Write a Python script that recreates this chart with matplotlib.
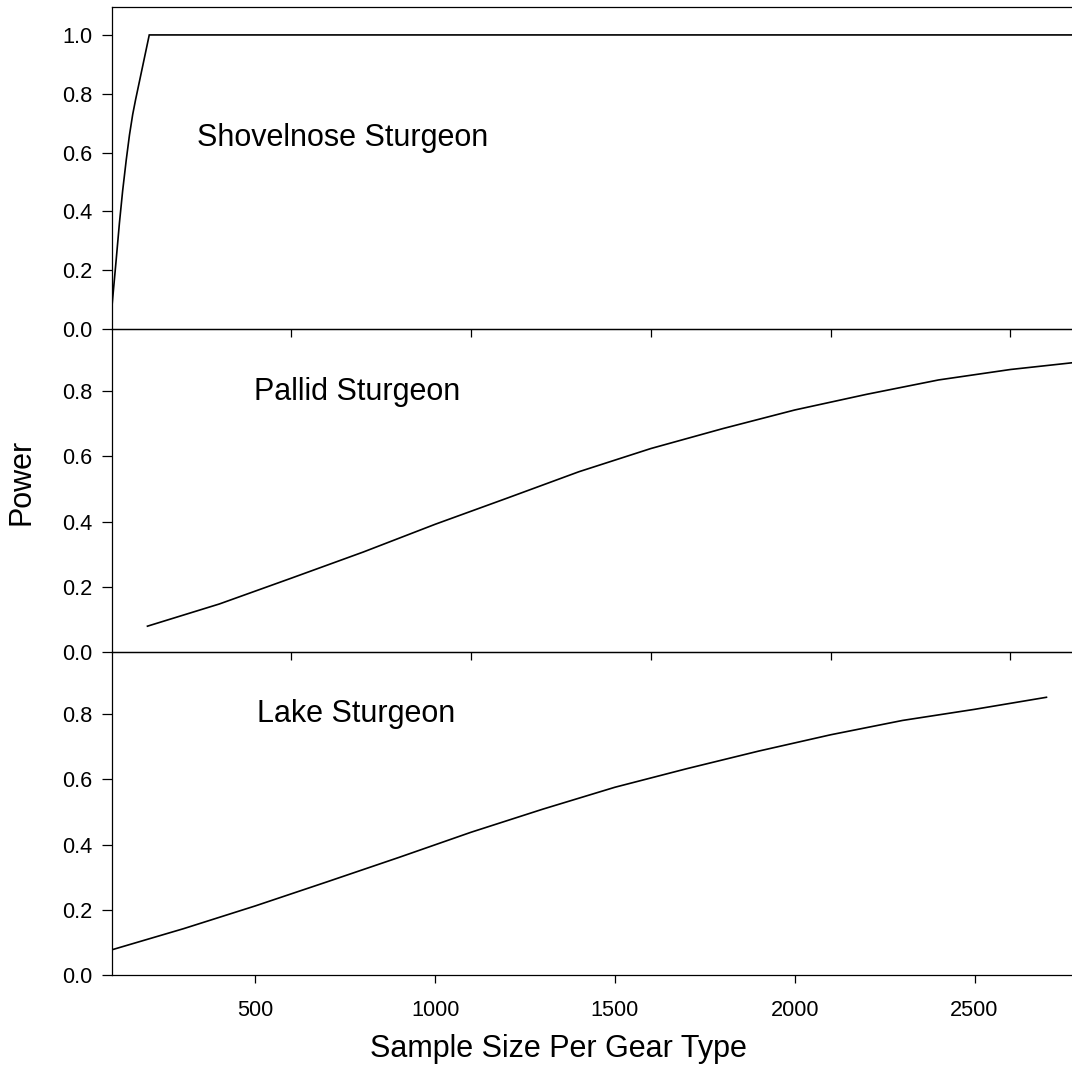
import matplotlib
matplotlib.use("Agg")
import matplotlib.pyplot as plt
from matplotlib.ticker import FixedLocator, FormatStrFormatter

plt.rcParams['font.family'] = ['Liberation Sans', 'DejaVu Sans']

# ---- data ----
shovel_x = [100, 113, 122, 131, 141, 150, 159, 167, 205, 300, 500, 700, 900, 1100, 1300,
            1500, 1700, 1900, 2100, 2300, 2500, 2700, 2900]
shovel_y = [0.06, 0.235, 0.36, 0.47, 0.575, 0.66, 0.73, 0.78, 1.0, 1.0, 1.0, 1.0, 1.0, 1.0,
            1.0, 1.0, 1.0, 1.0, 1.0, 1.0, 1.0, 1.0, 1.0]

pallid_x = [200, 400, 600, 800, 1000, 1200, 1400, 1600, 1800, 2000, 2200, 2400, 2600, 2800]
pallid_y = [0.080, 0.148, 0.227, 0.307, 0.392, 0.472, 0.553, 0.624, 0.685, 0.742, 0.790,
            0.834, 0.866, 0.890]

lake_x = [100, 300, 500, 700, 900, 1100, 1300, 1500, 1700, 1900, 2100, 2300, 2500, 2700]
lake_y = [0.077, 0.142, 0.212, 0.286, 0.361, 0.438, 0.509, 0.576, 0.633, 0.687, 0.737,
          0.781, 0.815, 0.852]

panel_labels = ["Shovelnose Sturgeon", "Pallid Sturgeon", "Lake Sturgeon"]
label_pos = [(339, 0.623), (495, 0.772), (505, 0.777)]

x_ticks_bottom = [500, 1000, 1500, 2000, 2500]
x_ticks_inner = [600, 1100, 1600, 2100, 2600]
y_ticks_top = [0.0, 0.2, 0.4, 0.6, 0.8, 1.0]
y_ticks_lower = [0.0, 0.2, 0.4, 0.6, 0.8]

xlabel = "Sample Size Per Gear Type"
ylabel = "Power"

# ---- figure ----
W, H = 1072, 1070
fig = plt.figure(figsize=(W / 100, H / 100), dpi=100)

left = 111.5 / W
width = 1.0 - left + 0.002
panels_px = [(6.7, 329.0), (329.0, 652.3), (652.3, 975.0)]
ylims = [(0, 1.096), (0, 0.99), (0, 0.99)]
series = [(shovel_x, shovel_y), (pallid_x, pallid_y), (lake_x, lake_y)]

tick_fs = 15.7
text_fs = 22

axes = []
for i, ((top_px, bot_px), yl, (xs, ys)) in enumerate(zip(panels_px, ylims, series)):
    ax = fig.add_axes([left, 1 - bot_px / H, width, (bot_px - top_px) / H])
    ax.set_facecolor('none')
    ax.set_zorder(10 - i)
    ax.plot(xs, ys, color='black', lw=1.2, solid_joinstyle='miter')
    ax.set_xlim(100, 2777)
    ax.set_ylim(*yl)
    ax.spines['right'].set_visible(False)
    for s in ax.spines.values():
        s.set_linewidth(0.9)
    ax.yaxis.set_major_locator(FixedLocator(y_ticks_top if i == 0 else y_ticks_lower))
    ax.yaxis.set_major_formatter(FormatStrFormatter('%.1f'))
    ax.tick_params(axis='y', direction='out', length=7, width=0.9, pad=7,
                   labelsize=tick_fs, left=True, right=False)
    if i < 2:
        ax.xaxis.set_major_locator(FixedLocator(x_ticks_inner))
        ax.tick_params(axis='x', direction='out', length=6, width=0.9,
                       labelbottom=False, top=False)
    else:
        ax.xaxis.set_major_locator(FixedLocator(x_ticks_bottom))
        ax.tick_params(axis='x', direction='out', length=6, width=0.9, pad=12,
                       labelsize=tick_fs, top=False)
    lx, ly = label_pos[i]
    ax.text(lx, ly, panel_labels[i], fontsize=text_fs, ha='left', va='baseline')
    axes.append(ax)

fig.text(558 / W, 1 - 1056.7 / H, xlabel, fontsize=text_fs, ha='center', va='baseline')
fig.text(22 / W, 1 - 482 / H, ylabel, fontsize=text_fs, ha='center', va='center',
         rotation=90)

fig.savefig("out.png", dpi=100, facecolor='white')
